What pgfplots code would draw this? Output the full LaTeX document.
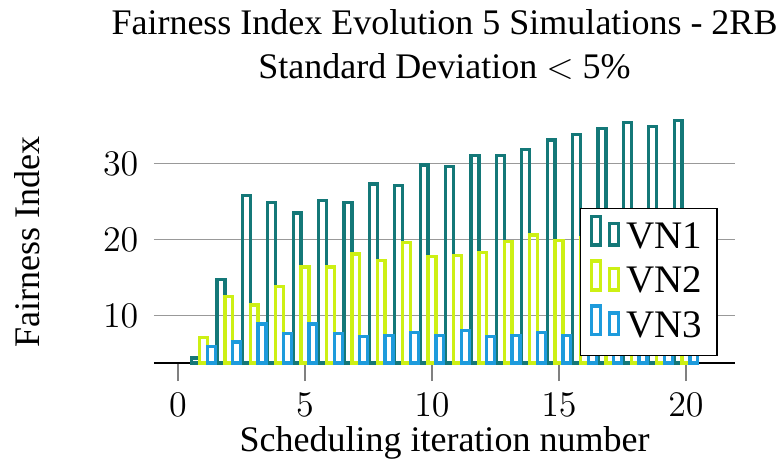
\documentclass[12pt,border=0pt]{standalone}
\usepackage{fontspec}
\setmainfont{Liberation Serif}
\usepackage{pgfplots}
\pgfplotsset{compat=1.18}
\definecolor{vnone}{RGB}{20,120,120}
\definecolor{vntwo}{RGB}{205,240,20}
\definecolor{vnthree}{RGB}{30,155,220}
\begin{document}
\begin{tikzpicture}
\begin{axis}[name=ax, at={(0,0)}, anchor=south west,
  scale only axis, width=193.67pt, height=80.94pt,
  xmin=-0.945, xmax=21.93, ymin=3.75, ymax=35.7, clip=false,
  ybar=0pt, bar width=0.31,
  axis x line=bottom, axis y line=left,
  x axis line style={-, line width=0.6pt},
  y axis line style={draw=none},
  xtick={0,5,10,15,20}, ytick={10,20,30},
  ytick style={draw=none},
  xtick style={gray, line width=0.4pt},
  tick align=outside, major tick length=6pt,
  yticklabel style={xshift=5pt},
  ymajorgrids, grid style={gray!80, line width=0.4pt},
  title={Fairness Index Evolution 5 Simulations - 2RB\\Standard Deviation $<$ 5\%},
  title style={align=center, yshift=3.4pt},
  xlabel={Scheduling iteration number}, ylabel={Fairness Index},
  xlabel style={yshift=5pt},
  ylabel style={yshift=13pt},
  legend style={at={(0.97,0.03)}, anchor=south east, draw=black, fill=white, font=\fontsize{13}{15}\selectfont},
]
\addplot[draw=vnone, fill=none, line width=1.1pt] coordinates {
(1,4.4) (2,14.7) (3,25.8) (4,24.9) (5,23.5) (6,25.1) (7,24.9) (8,27.3) (9,27.1) (10,29.8)
(11,29.6) (12,31.1) (13,31.1) (14,31.8) (15,33.1) (16,33.8) (17,34.6) (18,35.4) (19,34.9) (20,35.7)};
\addplot[draw=vntwo, fill=none, line width=1.1pt] coordinates {
(1,7.1) (2,12.5) (3,11.4) (4,13.8) (5,16.4) (6,16.4) (7,18.1) (8,17.2) (9,19.6) (10,17.8)
(11,17.9) (12,18.3) (13,19.7) (14,20.6) (15,19.9) (16,20.2) (17,20.8) (18,21.1) (19,20.5) (20,21.4)};
\addplot[draw=vnthree, fill=none, line width=1.1pt] coordinates {
(1,5.9) (2,6.5) (3,8.9) (4,7.6) (5,8.9) (6,7.6) (7,7.2) (8,7.4) (9,7.8) (10,7.4)
(11,8.0) (12,7.2) (13,7.4) (14,7.8) (15,7.4) (16,7.5) (17,7.3) (18,7.6) (19,7.4) (20,7.7)};
\legend{VN1,VN2,VN3}
\end{axis}
\pgfresetboundingbox
\useasboundingbox (-51.33pt,-32.67pt) rectangle (209.67pt,121pt);
\end{tikzpicture}
\end{document}
